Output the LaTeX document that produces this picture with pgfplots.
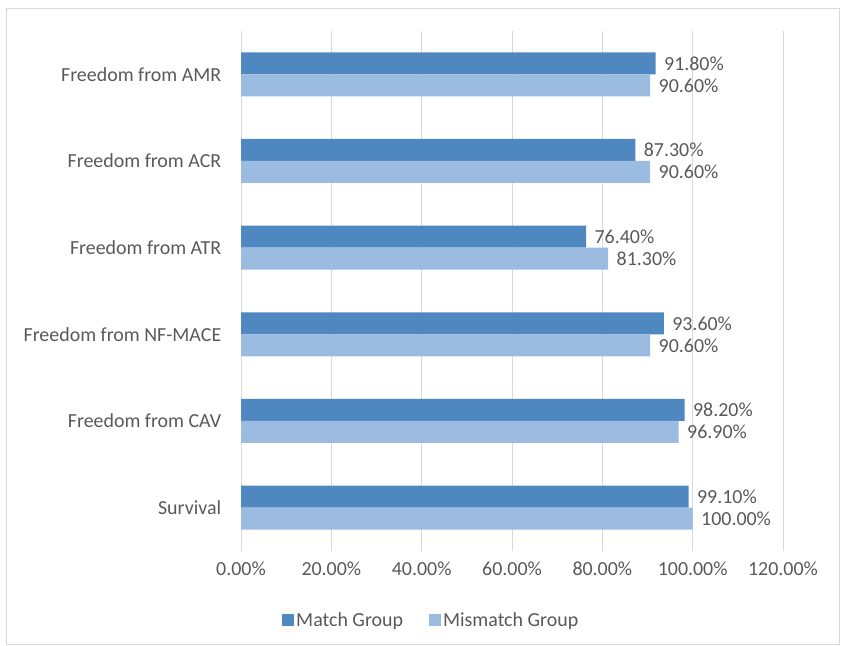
\documentclass[border=0pt]{standalone}
\usepackage{pgfplots}
\pgfplotsset{compat=1.18}
\usepackage{fontspec}
\setmainfont{Carlito}
\definecolor{darkb}{RGB}{79,136,192}
\definecolor{lightb}{RGB}{155,187,224}
\definecolor{txt}{RGB}{89,89,89}
\definecolor{gridc}{RGB}{217,217,217}
\begin{document}
\begin{tikzpicture}[x=1bp,y=1bp]
\path[use as bounding box] (0,0) rectangle (846,646);
\draw[gridc] (6,2) rectangle (839,638);
\begin{axis}[
  at={(241bp,95bp)}, anchor=south west,
  scale only axis, width=542bp, height=520bp,
  xmin=0, xmax=120, ymin=-0.5, ymax=5.5,
  xtick={0,20,...,120},
  xticklabel={\pgfmathprintnumber[fixed,fixed zerofill,precision=2]{\tick}\%},
  /pgf/number format/assume math mode=true,
  ytick={0,...,5},
  yticklabels={Survival,Freedom from CAV,Freedom from NF-MACE,Freedom from ATR,Freedom from ACR,Freedom from AMR},
  xmajorgrids, grid style={gridc, line width=0.8pt},
  axis x line*=bottom, axis y line*=left,
  x axis line style={draw=none},
  y axis line style={gridc, line width=0.8pt},
  tick style={draw=none},
  tick label style={font=\fontsize{20}{23}\selectfont, text=txt},
  xticklabel style={yshift=-7bp},
  yticklabel style={xshift=-12bp},
  xbar, bar width=22bp,
  nodes near coords={\pgfmathprintnumber[fixed,fixed zerofill,precision=2]{\pgfplotspointmeta}\%},
  nodes near coords style={font=\fontsize{20}{23}\selectfont, text=txt, anchor=west, xshift=5bp},
  legend style={at={(0.351,-0.133)}, anchor=center, draw=none, legend columns=2,
    font=\fontsize{20}{23}\selectfont, text=txt,
    /tikz/every even column/.append style={column sep=24bp}},
  legend image code/.code={\draw[#1,draw=none] (-3bp,-6bp) rectangle (9bp,6bp);},
  clip=false,
]
\addplot[fill=darkb, draw=none, bar shift=11bp] coordinates {
  (99.1,0) (98.2,1) (93.6,2) (76.4,3) (87.3,4) (91.8,5)};
\addplot[fill=lightb, draw=none, bar shift=-11bp] coordinates {
  (100.0,0) (96.9,1) (90.6,2) (81.3,3) (90.6,4) (90.6,5)};
\legend{Match Group, Mismatch Group}
\end{axis}
\end{tikzpicture}
\end{document}
